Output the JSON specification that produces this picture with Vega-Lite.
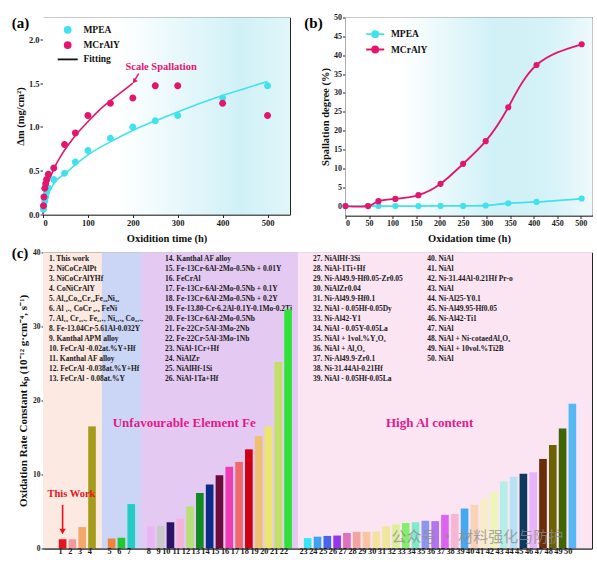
{
  "$schema": "https://vega.github.io/schema/vega-lite/v6.json",
  "background": "white",
  "padding": {"left": 11, "top": 12.5, "right": 0, "bottom": 0},
  "spacing": 0,
  "resolve": {"scale": {"fill": "independent", "stroke": "independent", "shape": "independent", "color": "independent"}},
  "vconcat": [
    {
      "spacing": 55.5,
      "bounds": "flush",
      "resolve": {"scale": {"fill": "independent", "stroke": "independent", "shape": "independent", "color": "independent"}},
      "hconcat": [
        {
          "width": 247,
          "height": 197,
          "layer": [
            {
              "data": {"values": [{}]},
              "mark": {"type": "rect", "fill": {"gradient": "linear", "x1": 0, "y1": 0, "x2": 1, "y2": 0, "stops": [{"offset": 0, "color": "#ffffff"}, {"offset": 0.3, "color": "#ffffff"}, {"offset": 0.8, "color": "#d0f1f7"}, {"offset": 1, "color": "#e0f6f9"}]}},
              "encoding": {"x": {"value": 0}, "x2": {"value": "width"}, "y": {"value": 0}, "y2": {"value": "height"}}
            },
            {
              "data": {"values": [
                {"series": "MPEA", "t": 0, "dm": 0}, {"series": "MPEA", "t": 1, "dm": 0.07}, {"series": "MPEA", "t": 3, "dm": 0.12}, {"series": "MPEA", "t": 6, "dm": 0.17}, {"series": "MPEA", "t": 10, "dm": 0.22}, {"series": "MPEA", "t": 16, "dm": 0.28}, {"series": "MPEA", "t": 25, "dm": 0.36}, {"series": "MPEA", "t": 50, "dm": 0.47}, {"series": "MPEA", "t": 75, "dm": 0.58}, {"series": "MPEA", "t": 100, "dm": 0.68}, {"series": "MPEA", "t": 150, "dm": 0.83}, {"series": "MPEA", "t": 200, "dm": 0.96}, {"series": "MPEA", "t": 250, "dm": 1.07}, {"series": "MPEA", "t": 300, "dm": 1.17}, {"series": "MPEA", "t": 350, "dm": 1.27}, {"series": "MPEA", "t": 400, "dm": 1.36}, {"series": "MPEA", "t": 450, "dm": 1.44}, {"series": "MPEA", "t": 500, "dm": 1.52},
                {"series": "MCrAlY", "t": 0, "dm": 0}, {"series": "MCrAlY", "t": 1, "dm": 0.11}, {"series": "MCrAlY", "t": 3, "dm": 0.18}, {"series": "MCrAlY", "t": 6, "dm": 0.26}, {"series": "MCrAlY", "t": 10, "dm": 0.34}, {"series": "MCrAlY", "t": 16, "dm": 0.42}, {"series": "MCrAlY", "t": 25, "dm": 0.53}, {"series": "MCrAlY", "t": 40, "dm": 0.67}, {"series": "MCrAlY", "t": 60, "dm": 0.82}, {"series": "MCrAlY", "t": 80, "dm": 0.95}, {"series": "MCrAlY", "t": 100, "dm": 1.06}, {"series": "MCrAlY", "t": 125, "dm": 1.19}, {"series": "MCrAlY", "t": 150, "dm": 1.3}, {"series": "MCrAlY", "t": 175, "dm": 1.4}, {"series": "MCrAlY", "t": 200, "dm": 1.5}
              ]},
              "mark": {"type": "line", "strokeWidth": 1.6, "interpolate": "monotone"},
              "encoding": {
                "x": {"field": "t", "type": "quantitative", "scale": {"domain": [0, 550], "nice": false},
                  "axis": {"title": "Oxidition time (h)", "values": [0, 100, 200, 300, 400, 500], "labelOverlap": false, "titlePadding": 6}},
                "y": {"field": "dm", "type": "quantitative", "scale": {"domain": [0, 2.25], "nice": false},
                  "axis": {"title": "Δm (mg/cm²)", "values": [0, 0.5, 1, 1.5, 2], "format": ".1f", "labelOverlap": false, "titlePadding": 3}},
                "stroke": {"field": "series", "type": "nominal", "scale": {"domain": ["MPEA", "MCrAlY", "Fitting"], "range": ["#41e2ee", "#e3166e", "#111111"]},
                  "legend": {"title": null, "orient": "none", "legendX": 18.7, "legendY": 6.3, "symbolSize": 100, "symbolStrokeWidth": 1.8, "labelOffset": 9.7, "rowPadding": 1.3, "padding": 0}}
              }
            },
            {
              "data": {"values": [
                {"series": "MPEA", "t": 1, "dm": 0.06}, {"series": "MPEA", "t": 2, "dm": 0.1}, {"series": "MPEA", "t": 4, "dm": 0.15}, {"series": "MPEA", "t": 6, "dm": 0.2}, {"series": "MPEA", "t": 8, "dm": 0.25}, {"series": "MPEA", "t": 12, "dm": 0.3}, {"series": "MPEA", "t": 24, "dm": 0.4}, {"series": "MPEA", "t": 48, "dm": 0.47}, {"series": "MPEA", "t": 72, "dm": 0.6}, {"series": "MPEA", "t": 100, "dm": 0.73}, {"series": "MPEA", "t": 150, "dm": 0.87}, {"series": "MPEA", "t": 200, "dm": 1.0}, {"series": "MPEA", "t": 250, "dm": 1.07}, {"series": "MPEA", "t": 300, "dm": 1.13}, {"series": "MPEA", "t": 400, "dm": 1.33}, {"series": "MPEA", "t": 500, "dm": 1.47},
                {"series": "MCrAlY", "t": 1, "dm": 0.1}, {"series": "MCrAlY", "t": 2, "dm": 0.2}, {"series": "MCrAlY", "t": 4, "dm": 0.3}, {"series": "MCrAlY", "t": 6, "dm": 0.35}, {"series": "MCrAlY", "t": 8, "dm": 0.4}, {"series": "MCrAlY", "t": 12, "dm": 0.46}, {"series": "MCrAlY", "t": 24, "dm": 0.53}, {"series": "MCrAlY", "t": 48, "dm": 0.8}, {"series": "MCrAlY", "t": 72, "dm": 0.93}, {"series": "MCrAlY", "t": 100, "dm": 1.13}, {"series": "MCrAlY", "t": 150, "dm": 1.27}, {"series": "MCrAlY", "t": 200, "dm": 1.33}, {"series": "MCrAlY", "t": 250, "dm": 1.47}, {"series": "MCrAlY", "t": 300, "dm": 1.47}, {"series": "MCrAlY", "t": 400, "dm": 1.27}, {"series": "MCrAlY", "t": 500, "dm": 1.13}
              ]},
              "mark": {"type": "point", "filled": true, "opacity": 1, "size": 136},
              "encoding": {
                "x": {"field": "t", "type": "quantitative", "axis": {"title": "Oxidition time (h)", "values": [0, 100, 200, 300, 400, 500], "labelOverlap": false, "titlePadding": 6}},
                "y": {"field": "dm", "type": "quantitative", "axis": {"title": "Δm (mg/cm²)", "values": [0, 0.5, 1, 1.5, 2], "format": ".1f", "labelOverlap": false, "titlePadding": 3}},
                "fill": {"field": "series", "type": "nominal", "scale": {"domain": ["MPEA", "MCrAlY", "Fitting"], "range": ["#41e2ee", "#e3166e", "#111111"]},
                  "legend": {"title": null, "orient": "none", "legendX": 18.7, "legendY": 6.3, "symbolSize": 100, "symbolStrokeWidth": 1.8, "labelOffset": 9.7, "rowPadding": 1.3, "padding": 0}},
                "shape": {"field": "series", "type": "nominal", "scale": {"domain": ["MPEA", "MCrAlY", "Fitting"], "range": ["M0.6,0A0.6,0.6 0 1,1 -0.6,0A0.6,0.6 0 1,1 0.6,0", "M0.6,0A0.6,0.6 0 1,1 -0.6,0A0.6,0.6 0 1,1 0.6,0", "M-2,0H2"]},
                  "legend": {"title": null, "orient": "none", "legendX": 18.7, "legendY": 6.3, "symbolSize": 100, "symbolStrokeWidth": 1.8, "labelOffset": 9.7, "rowPadding": 1.3, "padding": 0}}
              }
            },
            {
              "data": {"values": [{}]},
              "mark": {"type": "text", "text": "Scale Spallation", "color": "#e3166e", "fontSize": 10.5},
              "encoding": {"x": {"datum": 263}, "y": {"datum": 1.69}}
            },
            {
              "data": {"values": [{}]},
              "mark": {"type": "rule", "color": "#e3166e", "strokeWidth": 1.4},
              "encoding": {"x": {"datum": 213}, "x2": {"datum": 205}, "y": {"datum": 1.61}, "y2": {"datum": 1.54}}
            },
            {
              "data": {"values": [{}]},
              "mark": {"type": "point", "shape": "triangle-down", "filled": true, "opacity": 1, "color": "#e3166e", "size": 30, "angle": 40},
              "encoding": {"x": {"datum": 203}, "y": {"datum": 1.52}}
            },
            {
              "data": {"values": [{}]},
              "mark": {"type": "text", "text": "(a)", "fontSize": 15, "color": "#000000"},
              "encoding": {"x": {"datum": -50}, "y": {"datum": 2.19}}
            }
          ]
        },
        {
          "width": 247,
          "height": 198,
          "layer": [
            {
              "data": {"values": [{}]},
              "mark": {"type": "rect", "fill": {"gradient": "linear", "x1": 0, "y1": 0, "x2": 1, "y2": 0, "stops": [{"offset": 0, "color": "#ffffff"}, {"offset": 0.22, "color": "#ffffff"}, {"offset": 0.6, "color": "#d0f1f7"}, {"offset": 0.82, "color": "#d4f2f8"}, {"offset": 1, "color": "#eef9fb"}]}},
              "encoding": {"x": {"value": 0}, "x2": {"value": "width"}, "y": {"value": 0}, "y2": {"value": "height"}}
            },
            {
              "data": {"name": "spall", "values": [
                {"series": "MPEA", "t": 0, "deg": 0}, {"series": "MPEA", "t": 48, "deg": 0}, {"series": "MPEA", "t": 70, "deg": 0}, {"series": "MPEA", "t": 106, "deg": 0}, {"series": "MPEA", "t": 155, "deg": 0}, {"series": "MPEA", "t": 202, "deg": 0.05}, {"series": "MPEA", "t": 250, "deg": 0.05}, {"series": "MPEA", "t": 298, "deg": 0.15}, {"series": "MPEA", "t": 346, "deg": 0.75}, {"series": "MPEA", "t": 406, "deg": 1.1}, {"series": "MPEA", "t": 502, "deg": 2.0},
                {"series": "MCrAlY", "t": 0, "deg": 0}, {"series": "MCrAlY", "t": 48, "deg": 0}, {"series": "MCrAlY", "t": 70, "deg": 1.3}, {"series": "MCrAlY", "t": 106, "deg": 1.9}, {"series": "MCrAlY", "t": 155, "deg": 2.9}, {"series": "MCrAlY", "t": 202, "deg": 5.9}, {"series": "MCrAlY", "t": 250, "deg": 11.2}, {"series": "MCrAlY", "t": 298, "deg": 17.2}, {"series": "MCrAlY", "t": 346, "deg": 26.2}, {"series": "MCrAlY", "t": 406, "deg": 37.4}, {"series": "MCrAlY", "t": 502, "deg": 42.9}
              ]},
              "mark": {"type": "line", "strokeWidth": 1.8, "interpolate": "natural"},
              "encoding": {
                "x": {"field": "t", "type": "quantitative", "scale": {"domain": [0, 525], "nice": false},
                  "axis": {"title": "Oxidation time (h)", "values": [0, 50, 100, 150, 200, 250, 300, 350, 400, 450, 500], "tickCount": 11, "labelOverlap": false, "labelSeparation": 0, "labelBound": false, "labelFontSize": 8, "titlePadding": 6}},
                "y": {"field": "deg", "type": "quantitative", "scale": {"domain": [-2.5, 50], "nice": false},
                  "axis": {"title": "Spallation degree (%)", "values": [0, 5, 10, 15, 20, 25, 30, 35, 40, 45, 50], "tickCount": 11, "labelOverlap": false, "labelSeparation": 0, "labelBound": false, "labelFontSize": 8, "titlePadding": 3}},
                "stroke": {"field": "series", "type": "nominal", "scale": {"domain": ["MPEA", "MCrAlY"], "range": ["#41e2ee", "#e3166e"]},
                  "legend": {"title": null, "orient": "none", "legendX": 23.7, "legendY": 10.7, "symbolType": "M-1.8,0H1.8M0.6,0A0.6,0.6 0 1,1 -0.6,0A0.6,0.6 0 1,1 0.6,0", "symbolSize": 100, "symbolStrokeWidth": 1.8, "labelOffset": 9.7, "rowPadding": 1.3, "padding": 0}}
              }
            },
            {
              "data": {"name": "spall"},
              "mark": {"type": "point", "filled": true, "opacity": 1, "size": 38},
              "encoding": {
                "x": {"field": "t", "type": "quantitative", "axis": {"title": "Oxidation time (h)", "values": [0, 50, 100, 150, 200, 250, 300, 350, 400, 450, 500], "tickCount": 11, "labelOverlap": false, "labelSeparation": 0, "labelBound": false, "labelFontSize": 8, "titlePadding": 6}},
                "y": {"field": "deg", "type": "quantitative", "axis": {"title": "Spallation degree (%)", "values": [0, 5, 10, 15, 20, 25, 30, 35, 40, 45, 50], "tickCount": 11, "labelOverlap": false, "labelSeparation": 0, "labelBound": false, "labelFontSize": 8, "titlePadding": 3}},
                "fill": {"field": "series", "type": "nominal", "scale": {"domain": ["MPEA", "MCrAlY"], "range": ["#41e2ee", "#e3166e"]},
                  "legend": {"title": null, "orient": "none", "legendX": 23.7, "legendY": 10.7, "symbolType": "M-1.8,0H1.8M0.6,0A0.6,0.6 0 1,1 -0.6,0A0.6,0.6 0 1,1 0.6,0", "symbolSize": 100, "symbolStrokeWidth": 1.8, "labelOffset": 9.7, "rowPadding": 1.3, "padding": 0}}
              }
            },
            {
              "data": {"values": [{}]},
              "mark": {"type": "text", "text": "(b)", "fontSize": 15, "color": "#000000"},
              "encoding": {"x": {"datum": -68}, "y": {"datum": 48.6}}
            }
          ]
        }
      ]
    },
    {
      "width": 549,
      "height": 296,
      "resolve": {"scale": {"y": "independent"}},
      "layer": [
        {
          "data": {"values": [{}]},
          "mark": {"type": "rect", "color": "#fce9e1"},
          "encoding": {"x": {"value": 0}, "x2": {"value": "width"}, "y": {"value": 0}, "y2": {"value": "height"}}
        },
        {
          "data": {"values": [{"region": "HEA", "start": "a"}, {"region": "Fe", "start": "b"}, {"region": "NiAl", "start": "c"}]},
          "mark": {"type": "rect"},
          "encoding": {
            "x": {"field": "start", "type": "ordinal", "bandPosition": 0.5},
            "x2": {"value": "width"},
            "y": {"value": 0},
            "y2": {"value": "height"},
            "fill": {"field": "region", "type": "nominal", "scale": {"domain": ["HEA", "Fe", "NiAl"], "range": ["#cbd5f6", "#e4caf2", "#fce5f2"]}, "legend": null}
          }
        },
        {
          "data": {"values": [
            {"col": 1, "line": 1, "label": "1. This work"}, {"col": 1, "line": 2, "label": "2. NiCoCrAlPt"}, {"col": 1, "line": 3, "label": "3. NiCoCrAlYHf"}, {"col": 1, "line": 4, "label": "4. CoNiCrAlY"}, {"col": 1, "line": 5, "label": "5. Al₁₈Co₃₀Cr₁₀Fe₁₀Ni₃₂"}, {"col": 1, "line": 6, "label": "6. Al ₁.₁ CoCr ₀.₈ FeNi"}, {"col": 1, "line": 7, "label": "7. Al₁₃ Cr₂₁.₇ Fe₂₁.₇ Ni₂₁.₈ Co₂₁.₇"}, {"col": 1, "line": 8, "label": "8. Fe-13.04Cr-5.61Al-0.032Y"}, {"col": 1, "line": 9, "label": "9. Kanthal APM alloy"}, {"col": 1, "line": 10, "label": "10. FeCrAl -0.02at.%Y+Hf"}, {"col": 1, "line": 11, "label": "11. Kanthal AF alloy"}, {"col": 1, "line": 12, "label": "12. FeCrAl -0.038at.%Y+Hf"}, {"col": 1, "line": 13, "label": "13. FeCrAl - 0.08at.%Y"},
            {"col": 2, "line": 1, "label": "14. Kanthal AF alloy"}, {"col": 2, "line": 2, "label": "15. Fe-13Cr-6Al-2Mo-0.5Nb + 0.01Y"}, {"col": 2, "line": 3, "label": "16. FeCrAl"}, {"col": 2, "line": 4, "label": "17. Fe-13Cr-6Al-2Mo-0.5Nb + 0.1Y"}, {"col": 2, "line": 5, "label": "18. Fe-13Cr-6Al-2Mo-0.5Nb + 0.2Y"}, {"col": 2, "line": 6, "label": "19. Fe-13.80-Cr-6.2Al-0.1Y-0.1Mo-0.2Ti"}, {"col": 2, "line": 7, "label": "20. Fe-13Cr-6Al-2Mo-0.5Nb"}, {"col": 2, "line": 8, "label": "21. Fe-22Cr-5Al-3Mo-2Nb"}, {"col": 2, "line": 9, "label": "22. Fe-22Cr-5Al-3Mo-1Nb"}, {"col": 2, "line": 10, "label": "23. NiAl-1Cr+Hf"}, {"col": 2, "line": 11, "label": "24. NiAlZr"}, {"col": 2, "line": 12, "label": "25. NiAlHf-1Si"}, {"col": 2, "line": 13, "label": "26. NiAl-1Ta+Hf"},
            {"col": 3, "line": 1, "label": "27. NiAlHf-3Si"}, {"col": 3, "line": 2, "label": "28. NiAl-1Ti+Hf"}, {"col": 3, "line": 3, "label": "29. Ni-Al49.9-Hf0.05-Zr0.05"}, {"col": 3, "line": 4, "label": "30. NiAlZr0.04"}, {"col": 3, "line": 5, "label": "31. Ni-Al49.9-Hf0.1"}, {"col": 3, "line": 6, "label": "32. NiAl - 0.05Hf-0.05Dy"}, {"col": 3, "line": 7, "label": "33. Ni-Al42-Y1"}, {"col": 3, "line": 8, "label": "34. NiAl - 0.05Y-0.05La"}, {"col": 3, "line": 9, "label": "35. NiAl + 1vol.%Y₂O₃"}, {"col": 3, "line": 10, "label": "36. NiAl + Al₂O₃"}, {"col": 3, "line": 11, "label": "37. Ni-Al49.9-Zr0.1"}, {"col": 3, "line": 12, "label": "38. Ni-31.44Al-0.21Hf"}, {"col": 3, "line": 13, "label": "39. NiAl - 0.05Hf-0.05La"},
            {"col": 4, "line": 1, "label": "40. NiAl"}, {"col": 4, "line": 2, "label": "41. NiAl"}, {"col": 4, "line": 3, "label": "42. Ni-31.44Al-0.21Hf  Pr-o"}, {"col": 4, "line": 4, "label": "43. NiAl"}, {"col": 4, "line": 5, "label": "44. Ni-Al25-Y0.1"}, {"col": 4, "line": 6, "label": "45. Ni-Al49.95-Hf0.05"}, {"col": 4, "line": 7, "label": "46. Ni-Al42-Ti1"}, {"col": 4, "line": 8, "label": "47. NiAl"}, {"col": 4, "line": 9, "label": "48. NiAl + Ni-cotaedAl₂O₃"}, {"col": 4, "line": 10, "label": "49. NiAl + 10vol.%Ti2B"}, {"col": 4, "line": 11, "label": "50. NiAl"}
          ]},
          "encoding": {
            "y": {"field": "line", "type": "quantitative", "scale": {"domain": [0.4, 29.77], "reverse": true, "nice": false, "zero": false}, "axis": null},
            "text": {"field": "label"}
          },
          "layer": [
            {"transform": [{"filter": "datum.col === 1"}], "mark": {"type": "text", "align": "left", "fontSize": 7.5, "color": "#1a1a1a"}, "encoding": {"x": {"datum": 1, "type": "ordinal", "bandPosition": -0.89}}},
            {"transform": [{"filter": "datum.col === 2"}], "mark": {"type": "text", "align": "left", "fontSize": 7.5, "color": "#1a1a1a"}, "encoding": {"x": {"datum": 9, "type": "ordinal", "bandPosition": 0.95}}},
            {"transform": [{"filter": "datum.col === 3"}], "mark": {"type": "text", "align": "left", "fontSize": 7.5, "color": "#1a1a1a"}, "encoding": {"x": {"datum": 24, "type": "ordinal", "bandPosition": 0.05}}},
            {"transform": [{"filter": "datum.col === 4"}], "mark": {"type": "text", "align": "left", "fontSize": 7.5, "color": "#1a1a1a"}, "encoding": {"x": {"datum": 35, "type": "ordinal", "bandPosition": 0.7}}}
          ]
        },
        {
          "layer": [
            {
              "data": {"values": [
                {"item": 1, "kp": 1.25}, {"item": 2, "kp": 1.25}, {"item": 3, "kp": 2.9}, {"item": 4, "kp": 16.5}, {"item": 5, "kp": 1.35}, {"item": 6, "kp": 1.45}, {"item": 7, "kp": 6.0}, {"item": 8, "kp": 3.0}, {"item": 9, "kp": 3.05}, {"item": 10, "kp": 3.55},
                {"item": 11, "kp": 4.05}, {"item": 12, "kp": 5.7}, {"item": 13, "kp": 7.5}, {"item": 14, "kp": 8.65}, {"item": 15, "kp": 9.9}, {"item": 16, "kp": 11.05}, {"item": 17, "kp": 11.7}, {"item": 18, "kp": 13.4}, {"item": 19, "kp": 15.2}, {"item": 20, "kp": 16.5},
                {"item": 21, "kp": 25.2}, {"item": 22, "kp": 32.3}, {"item": 23, "kp": 1.4}, {"item": 24, "kp": 1.6}, {"item": 25, "kp": 1.7}, {"item": 26, "kp": 1.75}, {"item": 27, "kp": 2.1}, {"item": 28, "kp": 2.25}, {"item": 29, "kp": 2.25}, {"item": 30, "kp": 2.3},
                {"item": 31, "kp": 3.0}, {"item": 32, "kp": 3.25}, {"item": 33, "kp": 3.45}, {"item": 34, "kp": 3.55}, {"item": 35, "kp": 3.75}, {"item": 36, "kp": 3.7}, {"item": 37, "kp": 4.55}, {"item": 38, "kp": 4.65}, {"item": 39, "kp": 5.4}, {"item": 40, "kp": 5.9},
                {"item": 41, "kp": 6.75}, {"item": 42, "kp": 7.65}, {"item": 43, "kp": 9.05}, {"item": 44, "kp": 9.7}, {"item": 45, "kp": 10.1}, {"item": 46, "kp": 10.3}, {"item": 47, "kp": 12.1}, {"item": 48, "kp": 14.0}, {"item": 49, "kp": 16.2}, {"item": 50, "kp": 19.55}
              ]},
              "mark": {"type": "bar", "width": {"band": 0.78}},
              "encoding": {
                "x": {"field": "item", "type": "ordinal",
                  "scale": {"domain": ["L", 1, 2, 3, 4, "a", 5, 6, 7, "b", 8, 9, 10, 11, 12, 13, 14, 15, 16, 17, 18, 19, 20, 21, 22, "c", 23, 24, 25, 26, 27, 28, 29, 30, 31, 32, 33, 34, 35, 36, 37, 38, 39, 40, 41, 42, 43, 44, 45, 46, 47, 48, 49, 50, "R"], "paddingInner": 0, "paddingOuter": 0.5},
                  "axis": {"title": null, "ticks": false, "labelAngle": 0, "labelPadding": 3, "labelFontSize": 8.3, "labelOverlap": false, "labelExpr": "indexof(['L','a','b','c','R'], datum.value) >= 0 ? '' : datum.label"}},
                "y": {"field": "kp", "type": "quantitative", "scale": {"domain": [0, 40], "nice": false},
                  "axis": {"orient": "left", "title": "Oxidation Rate Constant kₚ (10⁻¹² g·cm⁻⁴, s⁻¹)", "values": [0, 10, 20, 30, 40], "labelFontSize": 7.5, "tickSize": 2, "titlePadding": 4, "titleFontSize": 11}},
                "color": {"field": "item", "type": "nominal", "legend": null,
                  "scale": {"domain": [1, 2, 3, 4, 5, 6, 7, 8, 9, 10, 11, 12, 13, 14, 15, 16, 17, 18, 19, 20, 21, 22, 23, 24, 25, 26, 27, 28, 29, 30, 31, 32, 33, 34, 35, 36, 37, 38, 39, 40, 41, 42, 43, 44, 45, 46, 47, 48, 49, 50],
                    "range": ["#e8131b", "#f09aa0", "#f3a86a", "#a69c1c", "#f0843a", "#22c832", "#22cbc4", "#e9b6f6", "#c9c9c9", "#2b1464", "#f5b4d8", "#b6e07a", "#128a22", "#0d2a88", "#6c0b3c", "#f03cb4", "#ef6a6c", "#cc0012", "#eec072", "#ece66e", "#c2e068", "#2fe23a", "#36e6f2", "#3ea2ef", "#4466ee", "#9436ee", "#e070c0", "#f5a39e", "#f8c6a4", "#f4e2a0", "#efe79a", "#dcf09c", "#86ee6e", "#7eeccb", "#8c96ef", "#b173ef", "#dc63f0", "#f6b6d6", "#45a9f0", "#f8d3b6", "#f7edc6", "#eef5b9", "#b3efe7", "#b8e1f3", "#0d3b60", "#e9b3f7", "#6b2d07", "#6b6205", "#3f6506", "#55b8f4"]}}
              }
            },
            {
              "data": {"values": [{}]},
              "mark": {"type": "rule", "color": "#e8131b", "strokeWidth": 1.6},
              "encoding": {"x": {"datum": 1, "type": "ordinal"}, "y": {"datum": 5.9}, "y2": {"datum": 2.6}}
            },
            {
              "data": {"values": [{}]},
              "mark": {"type": "point", "shape": "triangle-down", "filled": true, "opacity": 1, "color": "#e8131b", "size": 40},
              "encoding": {"x": {"datum": 1, "type": "ordinal"}, "y": {"datum": 2.3}}
            },
            {
              "data": {"values": [{}]},
              "mark": {"type": "text", "text": "This Work", "color": "#e8131b", "fontSize": 10.5},
              "encoding": {"x": {"datum": 2, "type": "ordinal", "bandPosition": 0.4}, "y": {"datum": 7.3}}
            },
            {
              "data": {"values": [{}]},
              "mark": {"type": "text", "text": "Unfavourable Element Fe", "color": "#e3198a", "fontSize": 13},
              "encoding": {"x": {"datum": 11, "type": "ordinal", "bandPosition": 0.9}, "y": {"datum": 16.9}}
            },
            {
              "data": {"values": [{}]},
              "mark": {"type": "text", "text": "High Al content", "color": "#e3198a", "fontSize": 13},
              "encoding": {"x": {"datum": 35, "type": "ordinal", "bandPosition": 0.94}, "y": {"datum": 17.0}}
            },
            {
              "data": {"values": [{}]},
              "mark": {"type": "text", "text": "公众号 · 材料强化与防护", "color": "#8c8c8c", "opacity": 0.75, "fontSize": 15, "font": "Noto Sans CJK SC", "fontWeight": "normal"},
              "encoding": {"x": {"datum": 40, "type": "ordinal", "bandPosition": 0.8}, "y": {"datum": 1.6}}
            },
            {
              "data": {"values": [{}]},
              "mark": {"type": "text", "text": "(c)", "fontSize": 15, "color": "#000000"},
              "encoding": {"x": {"datum": 1, "type": "ordinal", "bandPosition": -3.85}, "y": {"datum": 40}}
            }
          ]
        }
      ]
    }
  ],
  "config": {
    "font": "Liberation Serif",
    "view": {"stroke": "#262626", "strokeWidth": 1},
    "axis": {"grid": false, "labelOverlap": false, "labelFont": "Liberation Serif", "labelFontWeight": "bold", "labelFontSize": 8.5, "labelColor": "#1a1a1a", "titleFont": "Liberation Serif", "titleFontWeight": "bold", "titleFontSize": 10.5, "titleColor": "#111111", "domainColor": "#262626", "tickColor": "#262626", "tickSize": 3, "labelPadding": 1},
    "legend": {"labelFont": "Liberation Serif", "labelFontWeight": "bold", "labelFontSize": 9.5, "labelColor": "#111111", "padding": 0},
    "text": {"font": "Liberation Serif", "fontWeight": "bold"}
  }
}
